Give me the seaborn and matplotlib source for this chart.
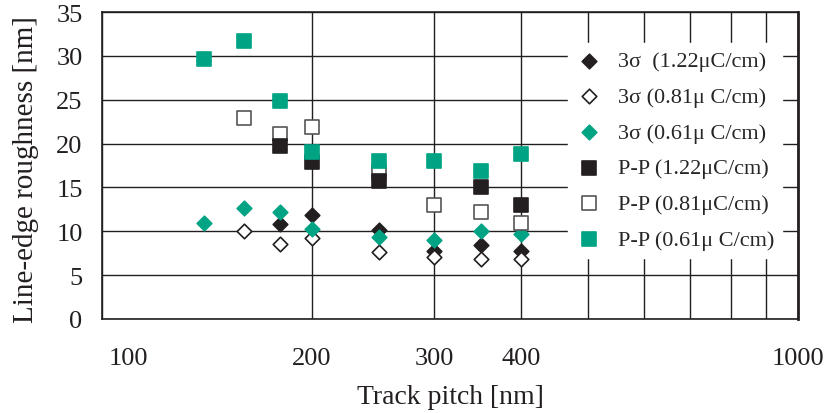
import numpy as np
import pandas as pd
import matplotlib
matplotlib.use("Agg")
import matplotlib.pyplot as plt
import matplotlib.transforms as mtransforms
import seaborn as sns

# ---- data ----
pitch_3s_122 = [180, 200, 250, 300, 350, 400]
ler_3s_122 = [10.8, 11.9, 10.1, 7.7, 8.4, 7.7]

pitch_3s_081 = [160, 180, 200, 250, 300, 350, 400]
ler_3s_081 = [10.0, 8.6, 9.2, 7.6, 7.1, 6.8, 6.8]

pitch_3s_061 = [140, 160, 180, 200, 250, 300, 350, 400]
ler_3s_061 = [10.9, 12.7, 12.2, 10.3, 9.4, 9.0, 10.0, 9.7]

pitch_pp_122 = [180, 200, 250, 350, 400]
ler_pp_122 = [19.7, 17.9, 15.7, 15.1, 13.0]

pitch_pp_081 = [160, 180, 200, 250, 300, 350, 400]
ler_pp_081 = [22.9, 21.1, 21.9, 16.8, 13.0, 12.2, 10.9]

pitch_pp_061 = [140, 160, 180, 200, 250, 300, 350, 400]
ler_pp_061 = [29.6, 31.7, 24.9, 19.0, 18.0, 18.0, 16.9, 18.8]

labels = ["3σ  (1.22μC/cm)", "3σ (0.81μ C/cm)", "3σ (0.61μ C/cm)",
          "P-P (1.22μC/cm)", "P-P (0.81μC/cm)", "P-P (0.61μ C/cm)"]

x_ticks = [100, 200, 300, 400, 500, 600, 700, 800, 900, 1000]
x_ticklabels = ["100", "200", "300", "400", "", "", "", "", "", "1000"]
y_ticks = [0, 5, 10, 15, 20, 25, 30, 35]

BLACK = "#231f20"
TEAL = "#00a383"

sns.set_theme(style="white")
plt.rcParams["font.family"] = ["Liberation Serif", "DejaVu Serif"]

fig = plt.figure(figsize=(8.29, 4.14), dpi=100)
ax = fig.add_axes([102 / 829, 1 - 320 / 414, 696 / 829, 307 / 414])

series = [
    (pitch_3s_122, ler_3s_122, "D", BLACK, BLACK, 55, 3),
    (pitch_3s_081, ler_3s_081, "D", "white", BLACK, 55, 4),
    (pitch_3s_061, ler_3s_061, "D", TEAL, TEAL, 55, 5),
    (pitch_pp_122, ler_pp_122, "s", BLACK, BLACK, 100, 7),
    (pitch_pp_081, ler_pp_081, "s", "white", "#555555", 100, 6),
    (pitch_pp_061, ler_pp_061, "s", TEAL, TEAL, 100, 8),
]
for (xs, ys, m, fc, ec, s, z), lab in zip(series, labels):
    df = pd.DataFrame({"pitch": xs, "ler": ys})
    sns.scatterplot(data=df, x="pitch", y="ler", marker=m, s=s,
                    color=fc, edgecolor=ec, linewidth=1.2, ax=ax,
                    zorder=z, label=lab, legend=False)

ax.set_xscale("log")
ax.set_xlim(100, 1000)
ax.set_ylim(0, 35)
ax.set_xticks(x_ticks)
ax.set_xticklabels(x_ticklabels)
ax.xaxis.set_minor_locator(matplotlib.ticker.NullLocator())
ax.set_yticks(y_ticks)
ax.tick_params(axis="both", length=0, labelsize=19, colors="#231f20")
ax.tick_params(axis="x", pad=20)
ax.tick_params(axis="y", pad=14)
ax.grid(True, color="#231f20", linewidth=1.0)
ax.set_axisbelow(True)
for sp in ax.spines.values():
    sp.set_color("#231f20")
    sp.set_linewidth(1.2)
ax.spines["right"].set_linewidth(2.0)

# shift "100" label to the right as in the reference
off = mtransforms.ScaledTranslation(26 / 100, 0, fig.dpi_scale_trans)
lbl = ax.get_xticklabels()[0]
lbl.set_transform(lbl.get_transform() + off)

ax.set_xlabel("Track pitch [nm]", fontsize=20, color="#231f20")
ax.set_ylabel("Line-edge roughness [nm]", fontsize=21, color="#231f20")
ax.xaxis.set_label_coords(0.5, (320 - 398) / 307, transform=ax.transAxes)
ax.yaxis.set_label_coords((26 - 102) / 696, (320 - 170) / 307, transform=ax.transAxes)
ax.xaxis.label.set_va("center")
ax.yaxis.label.set_va("center")

h, l = ax.get_legend_handles_labels()
leg = ax.legend(h, l, loc="upper left", bbox_to_anchor=(557 / 829, 1 - 33 / 414),
                bbox_transform=fig.transFigure, fontsize=16, frameon=True,
                facecolor="white", edgecolor="white", framealpha=1,
                labelspacing=0.68, handletextpad=0.7, borderpad=0.35,
                handlelength=1.2, fancybox=False)

fig.savefig("out.png", dpi=100)
